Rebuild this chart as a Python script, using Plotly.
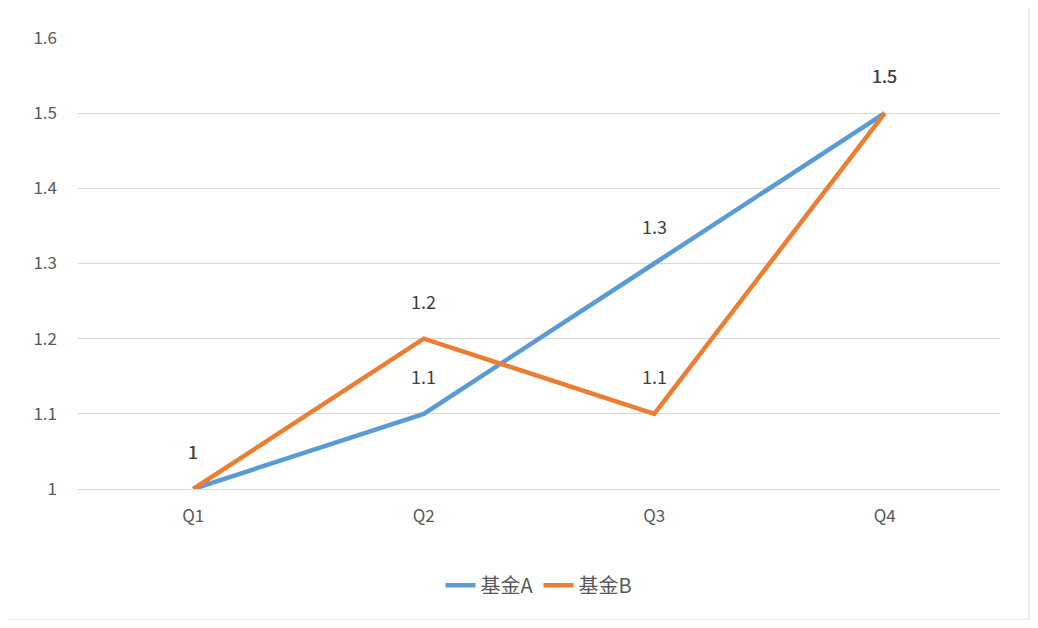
import plotly.graph_objects as go

quarters = ["Q1", "Q2", "Q3", "Q4"]
fund_a = [1.0, 1.1, 1.3, 1.5]
fund_b = [1.0, 1.2, 1.1, 1.5]
names = ["基金A", "基金B"]
colors = ["#5B9BD5", "#ED7D31"]

fig = go.Figure()
for name, vals, c in zip(names, [fund_a, fund_b], colors):
    fig.add_trace(go.Scatter(x=quarters, y=vals, name=name, mode="lines",
                             line=dict(color=c, width=4.5)))
    for q, v in zip(quarters, vals):
        fig.add_annotation(x=q, y=v, text=f"{v:g}", showarrow=False, yshift=38,
                           font=dict(size=18, color="#404040"))

fig.add_shape(type="rect", xref="paper", yref="paper",
              x0=-73/922, x1=1+29/922, y0=-131/451, y1=1+33/451,
              line=dict(color="#D9D9D9", width=1))

fig.update_layout(
    width=1022, height=612, paper_bgcolor="white", plot_bgcolor="white",
    margin=dict(l=70, r=30, t=30, b=131),
    font=dict(family="Noto Sans CJK SC, Noto Sans, sans-serif", color="#595959"),
    xaxis=dict(range=[-0.5, 3.5], showgrid=False, showline=True, linecolor="#D9D9D9",
               ticks="", tickfont=dict(size=17), ticklabelstandoff=12),
    yaxis=dict(range=[1, 1.6], dtick=0.1, gridcolor="#D9D9D9", zeroline=False,
               tickfont=dict(size=17), tickformat="~g", ticklabelstandoff=20),
    legend=dict(orientation="h", x=0.5, xanchor="center", y=-0.17, yanchor="top",
                font=dict(size=20, color="#595959")),
    showlegend=True,
)
fig.write_html("out.html")
